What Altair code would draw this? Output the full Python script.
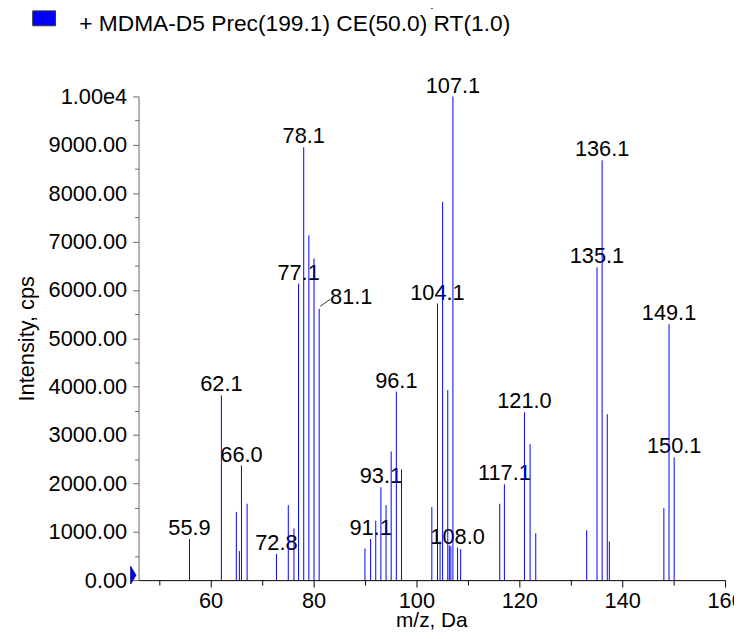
import altair as alt
import pandas as pd

# ---- data ----
peak_mz = [55.9, 62.1, 65.0, 65.6, 66.0, 67.1, 72.8, 75.1, 76.2, 77.1, 78.1, 79.1, 80.1, 81.1,
           90.0, 91.1, 92.1, 93.1, 94.1, 95.1, 96.1, 97.1,
           103.0, 104.1, 104.6, 105.1, 106.1, 106.4, 106.7, 107.1, 108.0, 108.6,
           116.2, 117.1, 121.0, 122.1, 123.2,
           133.1, 135.1, 136.1, 137.1, 137.5, 148.1, 149.1, 150.1]
peak_intensity = [850, 3820, 1410, 600, 2370, 1580, 540, 1550, 1070, 6130, 8950, 7130, 6650, 5610,
                  655, 850, 1230, 1920, 1550, 2660, 3900, 2290,
                  1510, 5720, 800, 7820, 3930, 720, 700, 10000, 670, 640,
                  1580, 1980, 3470, 2810, 970,
                  1030, 6470, 8680, 3430, 800, 1490, 5290, 2540]
peak_label = ["55.9", "62.1", "", "", "66.0", "", "72.8", "", "", "77.1", "78.1", "", "", "81.1",
              "", "91.1", "", "93.1", "", "", "96.1", "",
              "", "104.1", "", "", "", "", "", "107.1", "108.0", "",
              "", "117.1", "121.0", "", "",
              "", "135.1", "136.1", "", "", "", "149.1", "150.1"]
leader_labels = ["81.1"]

x_domain = [46, 160]
x_major = [60, 80, 100, 120, 140, 160]
x_minor = [50, 70, 90, 110, 130, 150]
y_domain = [0, 10000]
y_major = [0, 1000, 2000, 3000, 4000, 5000, 6000, 7000, 8000, 9000, 10000]
y_major_labels = ["0.00", "1000.00", "2000.00", "3000.00", "4000.00", "5000.00",
                  "6000.00", "7000.00", "8000.00", "9000.00", "1.00e4"]
y_minor = [500, 1500, 2500, 3500, 4500, 5500, 6500, 7500, 8500, 9500]
legend_label = ["+ MDMA-D5 Prec(199.1) CE(50.0) RT(1.0)"]
x_title = "m/z, Da"
y_title = "Intensity, cps"
marker_mz = [46]
marker_intensity = [0]

FONT = "Liberation Sans"
BLUE = "#0000ff"

df = pd.DataFrame({"mz": peak_mz, "intensity": peak_intensity, "label": peak_label})
df["base"] = 0
df["leader"] = df["label"].isin(leader_labels)
legend_df = pd.DataFrame({"name": legend_label})
top_df = pd.DataFrame({"name": [x_title]})
marker_df = pd.DataFrame({"mz": marker_mz, "intensity": marker_intensity})

xscale = alt.Scale(domain=x_domain, nice=False, zero=False)
yscale = alt.Scale(domain=y_domain, nice=False)

label_expr = ("[" + ",".join(f"'{s}'" for s in y_major_labels) + "][indexof(["
              + ",".join(str(v) for v in y_major) + "], datum.value)]")

# peak labels (carry the minor-tick axes)
labels = alt.Chart(df).transform_filter("datum.label != '' && !datum.leader").mark_text(
    font=FONT, fontSize=22, align="center", baseline="alphabetic", dy=-4, color="black"
).encode(
    x=alt.X("mz:Q", scale=xscale,
            axis=alt.Axis(orient="bottom", values=x_minor, labels=False, domain=False,
                          tickSize=5, tickColor="black", title=None, grid=False)),
    y=alt.Y("intensity:Q", scale=yscale,
            axis=alt.Axis(orient="left", values=y_minor, labels=False, domain=False,
                          tickSize=4, tickColor="#666666", title=None, grid=False)),
    text="label:N",
)

leader_text = alt.Chart(df).transform_filter("datum.leader").mark_text(
    font=FONT, fontSize=22, align="left", baseline="alphabetic", dx=11, dy=-4.5, color="black"
).encode(
    x=alt.X("mz:Q", scale=xscale, axis=None),
    y=alt.Y("intensity:Q", scale=yscale, axis=None),
    text="label:N",
)

leader_line = alt.Chart(df).transform_filter("datum.leader").mark_rule(
    color="black", strokeWidth=0.8, xOffset=1, yOffset=-2.5, x2Offset=11, y2Offset=-9.5
).encode(
    x=alt.X("mz:Q", scale=xscale, axis=None),
    x2="mz:Q",
    y=alt.Y("intensity:Q", scale=yscale, axis=None),
    y2="intensity:Q",
)

rules = alt.Chart(df).mark_rule(color=BLUE, strokeWidth=1).encode(
    x=alt.X("mz:Q", scale=xscale,
            axis=alt.Axis(orient="bottom", values=x_major, format="d", tickSize=7,
                          labelPadding=4, labelFlush=False, labelOverlap=False,
                          domainColor="black", tickColor="black",
                          title=x_title, titleX=296, titleY=47, titleFontSize=21,
                          titleBaseline="alphabetic", titleAlign="center", grid=False)),
    y=alt.Y("intensity:Q", scale=yscale,
            axis=alt.Axis(orient="left", values=y_major, labelExpr=label_expr, tickSize=6,
                          labelPadding=6, labelFlush=False, labelOverlap=False,
                          domainColor="#666666", tickColor="#666666",
                          title=y_title, titleAngle=270, titleX=-113, titleY=244.5,
                          titleBaseline="middle", titleAlign="center", grid=False)),
    y2="base:Q",
)

marker = alt.Chart(marker_df).mark_point(
    shape="M-0.3,-1L0.3,0L-0.3,1Z", filled=True, fill=BLUE, stroke="#00007a",
    strokeWidth=0.8, size=324, opacity=1, xOffset=-5.3, yOffset=-5
).encode(
    x=alt.X("mz:Q", scale=xscale, axis=None),
    y=alt.Y("intensity:Q", scale=yscale, axis=None),
)

legend_box = alt.Chart(legend_df).mark_rect(fill=BLUE, stroke="#333333", strokeWidth=1).encode(
    x=alt.value(-107), x2=alt.value(-84), y=alt.value(-86.5), y2=alt.value(-71.5)
)
legend_text = alt.Chart(legend_df).mark_text(
    font=FONT, fontSize=23, align="left", baseline="alphabetic", color="black"
).encode(x=alt.value(-60), y=alt.value(-66), text="name:N")

# the reference shows only the bottom sliver of this title at the very top edge
top_title = alt.Chart(top_df).mark_text(
    font=FONT, fontSize=22, align="center", baseline="alphabetic", color="black"
).encode(x=alt.value(296), y=alt.value(-91), text="name:N")

chart = alt.layer(
    labels, leader_text, leader_line, rules, marker, legend_box, legend_text, top_title
).resolve_axis(
    x="independent", y="independent"
).properties(
    width=593, height=489,
    autosize=alt.AutoSizeParams(type="none"),
    padding={"left": 132, "top": 86, "right": 9, "bottom": 48},
    background="white",
).configure_view(
    strokeWidth=0
).configure_axis(
    labelFont=FONT, titleFont=FONT, labelFontSize=22, titleFontSize=22,
    labelColor="black", titleColor="black", titleFontWeight="normal", grid=False,
)

chart.save("out.html", embed_options={"renderer": "svg", "actions": False})
